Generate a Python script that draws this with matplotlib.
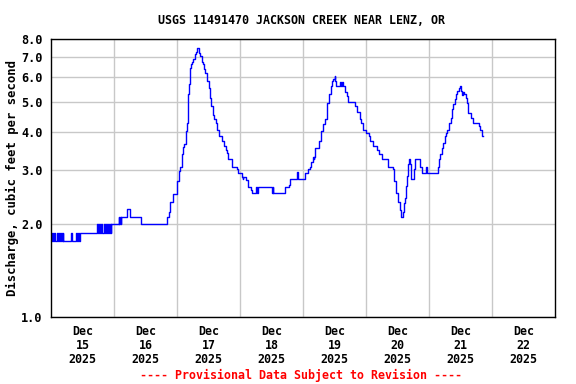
import matplotlib
matplotlib.use("Agg")
import matplotlib.pyplot as plt
from matplotlib.ticker import FixedLocator, NullFormatter, NullLocator

# Hours since 2025-12-15 00:00 and discharge (cfs), step series
hours = [0.0, 0.5, 0.75, 1.25, 1.5, 2.25, 2.5, 3.0, 3.25, 3.75, 4.0, 4.5, 4.75,
         7.5, 8.0, 9.5, 10.0, 10.25, 10.5, 11.0,
         17.5, 17.75, 18.25, 18.75, 19.0, 19.5, 20.0, 20.5, 21.0, 21.25,
         21.75, 22.0, 22.5, 22.75, 23.0,
         25.75, 26.0, 26.25, 26.5, 26.75, 29.0, 30.25, 34.25,
         44.0, 45.0, 45.5, 46.5, 48.0, 48.75, 49.25, 49.75, 50.25, 50.75, 51.25, 51.75,
         52.0, 52.5, 53.0, 53.25, 53.75, 54.25, 54.75, 55.25, 55.5, 56.25, 56.75, 57.5,
         58.0, 58.25, 58.75, 59.25, 60.0, 60.5, 61.0, 61.75, 62.25, 62.75, 63.25, 64.0,
         65.0, 65.75, 66.5, 67.0, 67.5, 69.0, 70.75, 71.25, 72.75, 73.0, 73.25, 74.25,
         75.0, 76.0, 76.5, 78.25, 78.5, 79.0, 84.25, 84.5, 84.75, 89.25, 90.5, 91.0,
         93.75, 94.0, 96.75, 97.75, 98.5, 99.0, 99.75, 100.0, 100.25, 100.75, 102.0,
         102.75, 103.0, 103.75, 104.5, 105.0, 105.25, 106.0, 106.5, 107.0, 107.5, 108.0,
         108.25, 108.75, 110.25, 110.5, 110.75, 111.25, 112.0, 112.75, 113.25, 115.75,
         116.5, 117.75, 118.25, 119.0, 120.0, 121.0, 121.5, 122.75, 124.25, 125.0,
         126.25, 128.5, 130.25, 130.75, 131.5, 132.25, 133.0, 133.25, 134.0, 134.5,
         135.0, 135.25, 135.75, 136.0, 136.25, 136.75, 137.0, 138.25, 138.5, 140.75,
         141.5, 143.0, 143.25, 147.25, 147.75, 148.25, 149.0, 149.5, 150.0, 150.5,
         151.0, 151.5, 152.25, 152.75, 153.25, 153.75, 154.25, 154.75, 155.25, 155.75,
         156.25, 156.5, 157.0, 157.5, 158.0, 158.5, 159.0, 160.0, 160.75, 163.0, 163.5,
         164.25, 164.75]
flow = [1.77, 1.87, 1.77, 1.87, 1.77, 1.87, 1.77, 1.87, 1.77, 1.87, 1.77, 1.87, 1.77,
        1.87, 1.77, 1.87, 1.77, 1.87, 1.77, 1.87,
        2.0, 1.87, 2.0, 1.87, 2.0, 1.87, 2.0, 1.87, 2.0, 1.87,
        2.0, 1.87, 2.0, 1.87, 2.0,
        2.11, 2.0, 2.11, 2.0, 2.11, 2.24, 2.11, 2.0,
        2.11, 2.19, 2.36, 2.51, 2.76, 2.98, 3.08, 3.38, 3.56, 3.64, 4.02, 4.28,
        5.29, 5.71, 6.42, 6.63, 6.75, 6.89, 7.15, 7.27, 7.46, 7.20, 7.02, 6.75,
        6.63, 6.39, 6.20, 5.85, 5.53, 5.16, 4.85, 4.52, 4.39, 4.28, 4.05, 3.87,
        3.73, 3.58, 3.50, 3.40, 3.25, 3.08, 3.02, 2.94, 2.85, 2.80, 2.85, 2.78,
        2.65, 2.58, 2.52, 2.65, 2.52, 2.65, 2.52, 2.65, 2.52, 2.65, 2.69, 2.80,
        2.95, 2.80, 2.94, 3.02, 3.08, 3.18, 3.32, 3.25, 3.32, 3.55, 3.73,
        3.87, 4.02, 4.23, 4.39, 4.44, 4.97, 5.29, 5.64, 5.85, 5.93, 6.05,
        5.85, 5.64, 5.81, 5.64, 5.81, 5.64, 5.39, 5.23, 5.01, 4.85,
        4.64, 4.39, 4.28, 4.05, 3.97, 3.87, 3.73, 3.59, 3.50, 3.38,
        3.25, 3.08, 3.03, 2.76, 2.53, 2.36, 2.23, 2.12, 2.20, 2.35,
        2.44, 2.66, 2.87, 3.15, 3.25, 3.15, 2.80, 3.02, 3.25, 3.08,
        2.94, 3.08, 2.94, 3.08, 3.25, 3.38, 3.55, 3.68, 3.87, 3.97,
        4.05, 4.28, 4.44, 4.73, 4.91, 5.10, 5.29, 5.43, 5.53, 5.64,
        5.43, 5.25, 5.39, 5.29, 5.16, 4.97, 4.61, 4.44, 4.26, 4.17, 4.05,
        3.87, 3.87]

day_labels = ["Dec\n15\n2025", "Dec\n16\n2025", "Dec\n17\n2025", "Dec\n18\n2025",
              "Dec\n19\n2025", "Dec\n20\n2025", "Dec\n21\n2025", "Dec\n22\n2025"]
y_ticks = [1.0, 2.0, 3.0, 4.0, 5.0, 6.0, 7.0, 8.0]

FONT = "DejaVu Sans Mono"
fig = plt.figure(figsize=(5.76, 3.84), dpi=100)
ax = fig.add_axes([51/576, 1 - 317/384, 504/576, 278/384])

ax.plot(hours, flow, color="#0000ff", lw=1.0, drawstyle="steps-post")

ax.set_yscale("log")
ax.set_ylim(1.0, 8.0)
ax.set_xlim(0, 192)
ax.yaxis.set_major_locator(FixedLocator(y_ticks))
ax.yaxis.set_minor_locator(NullLocator())
ax.yaxis.set_minor_formatter(NullFormatter())
ax.set_yticklabels([f"{v:.1f}" for v in y_ticks], fontfamily=FONT,
                   fontweight="bold", fontsize=8.6)

ax.set_xticks([24 * i for i in range(1, 8)])
ax.set_xticklabels([])
ax.set_xticks([24 * i + 12 for i in range(8)], minor=True)
ax.set_xticklabels(day_labels, minor=True, fontfamily=FONT, fontweight="bold",
                   fontsize=8.4, linespacing=1.1)
ax.tick_params(axis="both", which="both", length=0)
ax.tick_params(axis="y", pad=6)
ax.tick_params(axis="x", which="minor", pad=6)

ax.grid(True, which="major", color="#c8c8c8", lw=1.0)
ax.set_axisbelow(True)
for s in ax.spines.values():
    s.set_linewidth(1.0)
    s.set_color("black")

ax.set_ylabel("Discharge, cubic feet per second", fontfamily=FONT,
              fontweight="bold", fontsize=8.8)
ax.yaxis.set_label_coords(-32/504, 0.5)

fig.text(302/576, 1 - 20/384, "USGS 11491470 JACKSON CREEK NEAR LENZ, OR",
         ha="center", va="center", fontfamily=FONT, fontweight="bold", fontsize=8.4)
fig.text(301/576, 1 - 375/384, "---- Provisional Data Subject to Revision ----",
         ha="center", va="center", fontfamily=FONT, fontweight="bold",
         fontsize=8.4, color="red")

fig.savefig("out.png", dpi=100)
